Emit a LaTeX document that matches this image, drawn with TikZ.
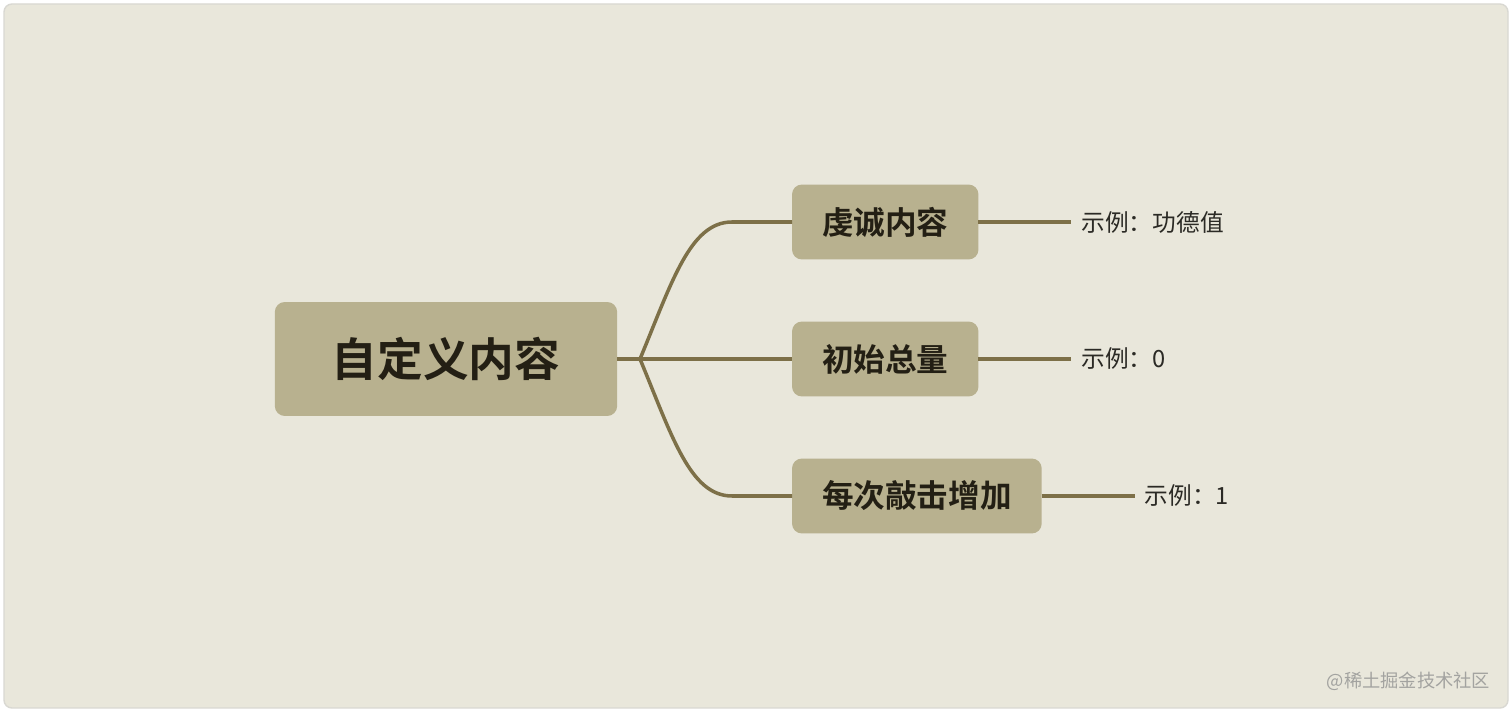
\documentclass[tikz,border=0pt]{standalone}
\usepackage{fontspec}
\usepackage{xcolor}
\usetikzlibrary{positioning}
\setmainfont{Noto Sans CJK SC}[BoldFont={Noto Sans CJK SC Bold}]
\definecolor{paper}{HTML}{E9E7DB}
\definecolor{frameline}{HTML}{D9D8D2}
\definecolor{boxfill}{HTML}{B8B18F}
\definecolor{branch}{HTML}{7D7048}
\definecolor{inkdark}{HTML}{231F14}
\definecolor{leafink}{HTML}{2B2A25}
\definecolor{markgray}{HTML}{A3A3A0}

\begin{document}
\begin{tikzpicture}[x=0.02cm, y=-0.02cm, line width=2pt,
  rootbox/.style={fill=boxfill, rounded corners=0.2cm, text=inkdark, inner xsep=1.14cm,
    outer sep=0pt, minimum height=2.28cm, font=\fontsize{26pt}{30pt}\selectfont\bfseries},
  topicbox/.style={fill=boxfill, rounded corners=0.2cm, text=inkdark, inner xsep=0.6cm,
    outer sep=0pt, minimum height=1.5cm, anchor=west, font=\fontsize{18pt}{22pt}\selectfont\bfseries},
  leaftext/.style={inner xsep=0.2cm, inner ysep=0pt, outer sep=0pt, text=leafink,
    font=\fontsize{13.5pt}{16pt}\selectfont},
  twig/.style={draw=branch, line width=2pt}]
  % frame
  \useasboundingbox (0,0) rectangle (1512,712);
  \fill[white] (0,0) rectangle (1512,712);
  \draw[draw=frameline, fill=paper, line width=0.8pt, rounded corners=0.16cm] (4,4) rectangle (1508,708);

  % root and topics
  \node[rootbox] (root) at (446,359) {自定义内容};
  \node[topicbox] (zeal) at (792,222) {虔诚内容};
  \node[topicbox] (total) at (792,359) {初始总量};
  \node[topicbox] (step) at (792,496) {每次敲击增加};
  \coordinate (fork) at (640,359);

  % branches
  \draw[twig] (root.east) -- (fork) -- (total.west);
  \draw[twig] (fork) .. controls (672,282) and (690,222) .. (732,222) -- (zeal.west);
  \draw[twig] (fork) .. controls (672,436) and (690,496) .. (732,496) -- (step.west);

  % examples
  \node[leaftext, right=1.86cm of zeal] (zealex) {示例：功德值};
  \node[leaftext, right=1.86cm of total] (totalex) {示例：0};
  \node[leaftext, right=1.86cm of step] (stepex) {示例：1};
  \draw[twig] (zeal) -- (zealex);
  \draw[twig] (total) -- (totalex);
  \draw[twig] (step) -- (stepex);

  % watermark
  \node[anchor=east, inner sep=0pt, text=markgray, font=\fontsize{10.4pt}{12pt}\selectfont] (mark) at (1492,681) {@稀土掘金技术社区};
\end{tikzpicture}
\end{document}
